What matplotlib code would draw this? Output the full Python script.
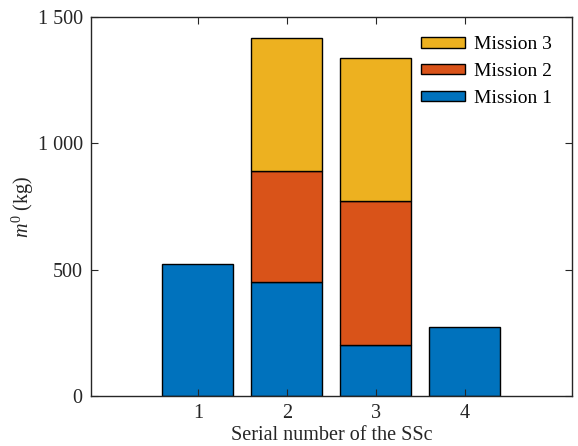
import matplotlib
matplotlib.use('Agg')
import matplotlib.pyplot as plt
import numpy as np

plt.rcParams['font.family'] = ['Liberation Serif', 'DejaVu Serif']
plt.rcParams['mathtext.fontset'] = 'custom'
plt.rcParams['mathtext.rm'] = 'Liberation Serif'
plt.rcParams['mathtext.it'] = 'Liberation Serif:italic'

# mass per SSc, split by mission
ssc = [1, 2, 3, 4]
mission1 = [522, 452, 200, 275]
mission2 = [0, 440, 573, 0]
mission3 = [0, 523, 565, 0]
labels = ['Mission 1', 'Mission 2', 'Mission 3']
colors = ['#0072BD', '#D95319', '#EDB120']

fig = plt.figure(figsize=(5.78, 4.46), dpi=100)
ax = fig.add_axes([0.1574, 0.1121, 0.8316, 0.8498])

bottom = np.zeros(len(ssc))
handles = []
for vals, lab, c in zip([mission1, mission2, mission3], labels, colors):
    vals = np.array(vals, dtype=float)
    mask = vals > 0
    b = ax.bar(np.array(ssc)[mask], vals[mask], width=0.8, bottom=bottom[mask],
               color=c, edgecolor='black', linewidth=1.0, label=lab)
    handles.append(b)
    bottom += vals

ax.set_xlim(-0.2, 5.2)
ax.set_ylim(0, 1500)
ax.set_xticks(ssc)
ax.set_yticks([0, 500, 1000, 1500])
ax.set_yticklabels(['0', '500', '1 000', '1 500'])
ax.tick_params(direction='in', length=5, width=0.8, top=True, right=True,
               labelsize=14.5, pad=6, colors='#262626', labelcolor='#262626')
for s in ax.spines.values():
    s.set_linewidth(1.0)
    s.set_color('#262626')

ax.set_xlabel('Serial number of the SSc', fontsize=14.5, color='#262626', labelpad=2)
ax.set_ylabel(r'$m^0$ (kg)', fontsize=14.5, color='#262626', labelpad=1)

ax.legend(handles[::-1], labels[::-1], loc='upper right', frameon=False,
          fontsize=14, handlelength=2.3, handleheight=0.45, labelspacing=0.5,
          handletextpad=0.45, borderaxespad=0.6)

fig.savefig('out.png', dpi=100)
